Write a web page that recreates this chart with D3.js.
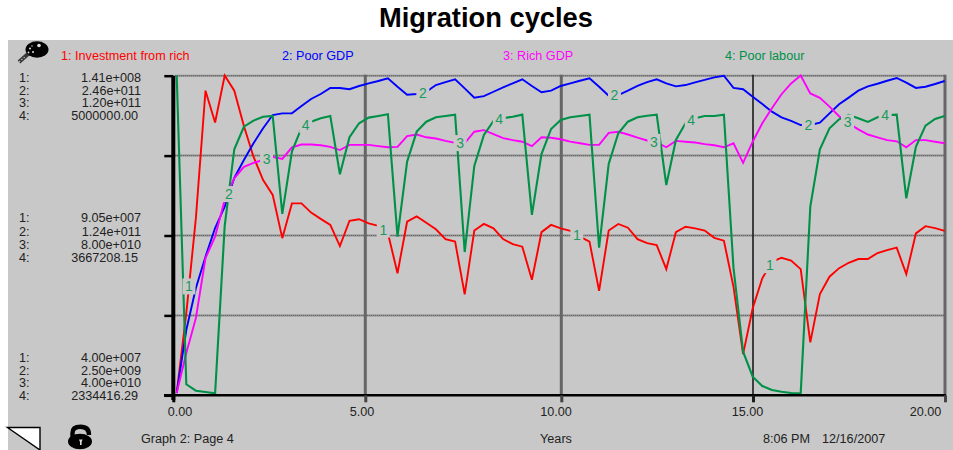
<!DOCTYPE html>
<html><head><meta charset="utf-8">
<script src="https://cdn.jsdelivr.net/npm/d3@7/dist/d3.min.js"></script>
<style>html,body{margin:0;padding:0;background:#fff;overflow:hidden}svg{display:block}text{font-family:"Liberation Sans",Arial,sans-serif}</style>
</head><body><div id="c"></div>
<script>
// ---- data ----
const seriesNames = ["1: Investment from rich","2: Poor GDP","3: Rich GDP","4: Poor labour"];
const seriesColors = ["#ff0000","#0000ff","#ff00ff","#009148"];
const timeStep = 0.25; // years
const investment = [40.5,65.8,95.9,136.2,126.1,141,136.2,125.0,115.3,107.9,103.2,89.5,100.5,100.5,97.6,95.6,93.7,87.0,95.0,95.5,94.2,93.4,91.1,78.4,94.7,96.4,94.4,92.3,89.2,88.4,71.7,91.9,94.0,92.6,89.2,87.6,86.8,76.3,91.4,93.7,92.6,91.8,90.0,88.4,72.8,91.9,94.0,92.8,89.2,87.9,87.3,79.7,91.4,93.1,92.6,91.9,89.6,88.7,74.1,52.8,67.3,76.8,82.0,83.3,82.4,79.7,56.5,71.8,77.3,80.0,81.7,82.9,82.9,84.8,85.7,86.5,78.1,91.0,93.3,92.7,91.8].map(v=>v*1e6);
const poorGDP = [3.6,51.7,83.8,107.7,129.6,145.8,167.8,181.5,194.2,205.7,215.8,217.1,217.1,222.7,228.1,231.9,236.5,236.5,235.5,238.0,240.0,241.8,243.9,237.4,231.3,231.9,233.6,238.7,241.0,243.1,236.2,229.1,230.3,233.6,237.0,240.0,243.1,238.0,233.2,234.4,238.0,240.0,242.0,243.9,237.4,230.6,231.1,234.4,238.0,241.0,243.1,240.0,237.7,238.7,240.8,242.6,244.6,245.8,236.5,235.5,229.8,224.2,218.4,214.1,211.3,208.2,208.2,210.0,217.1,224.0,229.1,234.4,237.7,239.7,242.0,244.1,240.5,236.5,237.4,239.5,241.8].map(v=>v*1e9);
const richGDP = [40.4,50.4,59.2,74.2,79.6,88.8,94.2,97.1,98.1,98.8,99.6,99.1,102.0,102.7,102.7,102.5,102.1,101.3,102.6,102.6,102.6,102.3,102.0,102.1,104.8,105.2,104.5,104.2,103.6,103.1,103.0,105.9,106.3,105.3,104.3,103.8,103.4,102.3,104.5,104.4,104.0,103.4,103.0,102.6,102.6,105.6,105.9,105.2,104.4,103.7,103.2,102.0,103.6,103.4,103.2,102.8,102.5,102.0,103.0,98.1,103.4,108.0,111.8,115.3,118.0,120.0,115.5,114.4,112.2,109.8,108.0,106.5,105.2,104.5,103.8,103.5,102.0,103.8,103.8,103.4,103.0].map(v=>v*1e9);
const poorLabour = [5.000,2.420,2.366,2.355,2.344,3.743,4.384,4.572,4.623,4.656,4.662,3.843,4.364,4.562,4.614,4.643,4.662,4.175,4.484,4.601,4.648,4.662,4.676,3.653,4.280,4.531,4.614,4.651,4.662,4.673,3.525,4.244,4.503,4.620,4.643,4.656,4.673,3.835,4.344,4.553,4.628,4.651,4.662,4.673,3.561,4.261,4.517,4.614,4.651,4.664,4.673,4.085,4.461,4.601,4.643,4.662,4.662,4.673,3.392,2.692,2.483,2.405,2.372,2.358,2.347,2.344,3.904,4.384,4.559,4.634,4.670,4.643,4.612,4.651,4.670,4.673,3.974,4.405,4.581,4.637,4.662].map(v=>v*1e6);
const seriesMin = [4.00e7,2.50e9,4.00e10,2334416.29];
const seriesMax = [1.41e8,2.46e11,1.20e11,5000000];
const axisTop = ["1.41e+008","2.46e+011","1.20e+011","5000000.00"];
const axisMid = ["9.05e+007","1.24e+011","8.00e+010","3667208.15"];
const axisBot = ["4.00e+007","2.50e+009","4.00e+010","2334416.29"];
const xTicks = [0,5,10,15,20];
const xTickLabels = ["0.00","5.00","10.00","15.00","20.00"];
const labelSeries = [1,2,3,4,1,2,3,4,1,2,3,4,1,2,3,4];
const labelTimes = [0.32,1.36,2.34,3.36,5.38,6.41,7.38,8.40,10.42,11.40,12.43,13.40,15.45,16.45,17.47,18.45];

// ---- layout ----
const W=953,H=450,FS=12.65;
const svg=d3.select("#c").append("svg").attr("width",W).attr("height",H);
const txt="#222";
svg.append("rect").attr("x",8).attr("y",40).attr("width",W-8).attr("height",H-40).attr("fill","#c8c8c8");
svg.append("text").attr("x",486).attr("y",27).attr("text-anchor","middle").attr("font-size",27.3).attr("font-weight","bold").attr("fill","#000").text("Migration cycles");

const x=d3.scaleLinear().domain([0,20]).range([176.7,944.7]);
const xAxisPos=d3.scaleLinear().domain(xTicks).range([173.3,365.3,561.3,753,945]);
const xLabelPos=d3.scaleLinear().domain(xTicks).range([179.5,361.6,555.5,747,925]);
const gridY=d3.scaleLinear().domain([0,4]).range([395.3,75.7]);
const ys=seriesMin.map((m,k)=>d3.scaleLinear().domain([m,seriesMax[k]]).range([394.5,75.5]));
const allSeries=[investment,poorGDP,richGDP,poorLabour];

// horizontal grid: grey rule with a fine dotted texture
const hg=svg.append("g");
hg.selectAll("line.base").data([1,2,3,4]).join("line").attr("class","base")
  .attr("x1",175).attr("x2",945).attr("y1",d=>gridY(d)).attr("y2",d=>gridY(d))
  .attr("stroke","#8e8e8e").attr("stroke-width",2);
hg.selectAll("line.dots").data([1,2,3,4]).join("line").attr("class","dots")
  .attr("x1",175).attr("x2",945).attr("y1",d=>gridY(d)).attr("y2",d=>gridY(d))
  .attr("stroke","#666").attr("stroke-width",1).attr("stroke-dasharray","1 1");
// vertical grid
svg.append("g").selectAll("line").data(xTicks.slice(1)).join("line")
  .attr("x1",d=>xAxisPos(d)).attr("x2",d=>xAxisPos(d)).attr("y1",gridY(4)-1).attr("y2",gridY(0))
  .attr("stroke",d=>d===15?"#1c1c1c":"#666").attr("stroke-width",d=>d===15?1.6:3);

// series
const line=k=>d3.line().x((d,i)=>x(i*timeStep)).y(d=>ys[k](d));
allSeries.forEach((s,k)=>{
  svg.append("path").attr("d",line(k)(s)).attr("fill","none").attr("stroke",seriesColors[k])
    .attr("stroke-width",k===3?2.1:1.9).attr("stroke-linejoin","miter");
});
// line labels with knock-out boxes
const lab=svg.append("g");
labelTimes.forEach((t,j)=>{
  const k=labelSeries[j]-1,s=allSeries[k];
  const f=t/timeStep,i0=Math.floor(f);
  const v=s[i0]+(s[i0+1]-s[i0])*(f-i0);
  const px=x(t),py=ys[k](v);
  lab.append("rect").attr("x",px-6.5).attr("y",py-8).attr("width",13).attr("height",16).attr("fill","#c8c8c8");
  lab.append("text").attr("x",px).attr("y",py+5).attr("text-anchor","middle").attr("font-size",14).attr("fill","#1a9a5c").text(labelSeries[j]);
});

// axes via d3 axis generators
const ax=svg.append("g").attr("transform","translate(0,395.3)").call(
  d3.axisBottom(xAxisPos).tickValues(xTicks).tickSize(7).tickPadding(9).tickFormat((d,i)=>xTickLabels[i]));
ax.select(".domain").attr("d","M164,0H946").attr("stroke","#000").attr("stroke-width",2.6);
ax.selectAll(".tick line").attr("stroke",d=>d===0?"#000":(d===15?"#1c1c1c":"#444")).attr("stroke-width",3);
ax.selectAll(".tick text").attr("x",d=>xLabelPos(d)-xAxisPos(d)).attr("y",21).attr("dy","0")
  .attr("font-size",FS).attr("font-family",'"Liberation Sans",Arial,sans-serif').attr("fill",txt).attr("text-anchor","middle");
const ay=svg.append("g").attr("transform","translate(173.3,0)").call(
  d3.axisLeft(gridY).tickValues([0,1,2,3,4]).tickSize(9).tickFormat(""));
ay.select(".domain").attr("d","M0,75.7V400").attr("stroke","#000").attr("stroke-width",4);
ay.selectAll(".tick line").attr("stroke","#000").attr("stroke-width",2.5);

// legend
const legendX=[61,282,503,725];
seriesNames.forEach((n,k)=>svg.append("text").attr("x",legendX[k]).attr("y",59.5).attr("font-size",FS).attr("fill",seriesColors[k]).text(n));

// left axis number blocks
const rowY=[[81.5,94.5,107,119.5],[222,235.5,248.5,261.5],[361.5,374.5,387,400]];
[axisTop,axisMid,axisBot].forEach((rows,b)=>{
  rows.forEach((v,r)=>{
    svg.append("text").attr("x",19).attr("y",rowY[b][r]).attr("font-size",FS).attr("fill",txt).text((r+1)+":");
    svg.append("text").attr("x",r===3?138:141).attr("y",rowY[b][r]).attr("text-anchor","end").attr("font-size",FS).attr("fill",txt).text(v);
  });
});

// footer
const foot=svg.append("g").attr("font-size",FS).attr("fill",txt);
foot.append("text").attr("x",141).attr("y",443).text("Graph 2: Page 4");
foot.append("text").attr("x",556).attr("y",443).attr("text-anchor","middle").text("Years");
foot.append("text").attr("x",763).attr("y",443).text("8:06 PM");
foot.append("text").attr("x",822).attr("y",443).text("12/16/2007");

// corner page marker
svg.append("path").attr("d","M7.5,427.5H40V450L7.5,427.5Z").attr("fill","#fff").attr("stroke","#000").attr("stroke-width",1.4);
// lock icon
const lock=svg.append("g");
lock.append("path").attr("d","M72.5,438V433C72.5,428.5 76,426.8 80.5,426.8C85.5,426.8 89,429 89,435").attr("fill","none").attr("stroke","#000").attr("stroke-width",4.4);
lock.append("ellipse").attr("cx",80).attr("cy",441.5).attr("rx",12).attr("ry",7.8).attr("fill","#000");
lock.append("path").attr("d","M79,439.5h3.6l-1,2.4v3h-1.6v-3z").attr("fill","#ddd");
// tool icon
const tool=svg.append("g");
tool.append("line").attr("x1",19).attr("y1",62).attr("x2",28).attr("y2",54).attr("stroke","#333").attr("stroke-width",4);
tool.append("line").attr("x1",19).attr("y1",62).attr("x2",26).attr("y2",56).attr("stroke","#bbb").attr("stroke-width",1.2).attr("stroke-dasharray","1.5 1.5");
tool.append("ellipse").attr("cx",37).attr("cy",49.5).attr("rx",11.5).attr("ry",8.3).attr("fill","#000");
[[39,45.5,1.8],[30,48.5,1],[33,52,1],[28.5,52.5,.9],[32,46,.7]].forEach(d=>tool.append("circle").attr("cx",d[0]).attr("cy",d[1]).attr("r",d[2]).attr("fill","#ddd"));
</script></body></html>
